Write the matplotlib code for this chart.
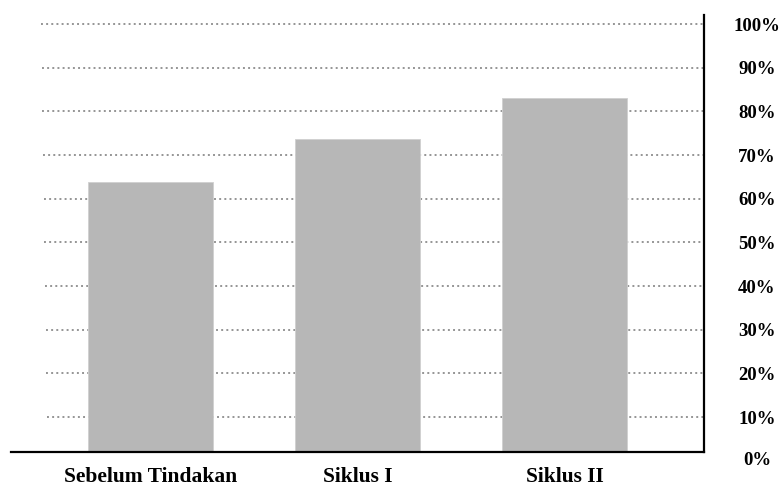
import matplotlib
matplotlib.use("Agg")
import matplotlib.pyplot as plt
from matplotlib.ticker import FixedLocator
from matplotlib.transforms import blended_transform_factory

categories = ["Sebelum Tindakan", "Siklus I", "Siklus II"]
values = [63.8, 73.7, 83.1]
tick_values = [0, 10, 20, 30, 40, 50, 60, 70, 80, 90, 100]
tick_labels = [f"{v}%" for v in tick_values]

plt.rcParams["font.family"] = ["Liberation Serif", "DejaVu Serif"]
plt.rcParams["font.weight"] = "bold"

fig = plt.figure(figsize=(7.8, 4.86), dpi=100)
ax = fig.add_axes([11 / 780, 34 / 486, 693 / 780, 437 / 486])

x = list(range(len(categories)))
ax.bar(x, values, width=0.604, color="#b7b7b7", edgecolor="#d0d0d0",
       linewidth=0.6, zorder=2)

ax.set_xlim(-0.674, 2.674)
ax.set_ylim(2.0, 102.1)

# dotted horizontal guides, starting a little in from the left edge
for v in tick_values[1:]:
    start = (41 + (100 - v) / 90 * 6 - 11) / 693
    ax.axhline(v, xmin=start, xmax=1.0, color="#959595", linestyle=":",
               linewidth=1.4, zorder=1)

ax.spines["left"].set_visible(False)
ax.spines["top"].set_visible(False)
for side in ("bottom", "right"):
    ax.spines[side].set_linewidth(1.6)
    ax.spines[side].set_color("black")

ax.set_xticks(x)
ax.set_xticklabels(categories, fontsize=15.5, fontweight="bold")
ax.tick_params(axis="x", length=0, pad=11)

# percentage scale on the right; labels centred in the right margin
ax.yaxis.tick_right()
ax.yaxis.set_major_locator(FixedLocator(tick_values[1:]))
ax.set_yticklabels(tick_labels[1:], fontsize=13.5, fontweight="bold")
ax.tick_params(axis="y", length=0, pad=38)
for lbl in ax.get_yticklabels():
    lbl.set_horizontalalignment("center")

# the 0% label sits just below the baseline line, outside the y-limits
trans = blended_transform_factory(fig.transFigure, ax.transData)
ax.text(757.5 / 780, tick_values[0], tick_labels[0], transform=trans,
        ha="center", va="center", fontsize=13.5, fontweight="bold",
        clip_on=False)

fig.savefig("out.png", dpi=100)
